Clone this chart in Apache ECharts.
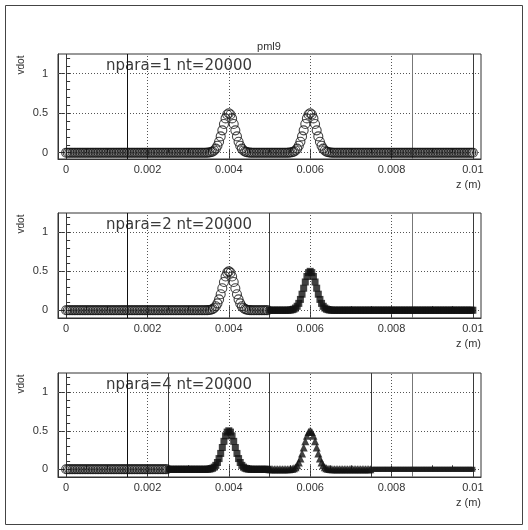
<!DOCTYPE html>
<html>
<head>
<meta charset="utf-8">
<title>pml9</title>
<script src="https://cdn.jsdelivr.net/npm/echarts@6/dist/echarts.min.js"></script>
<style>
  html, body { margin: 0; padding: 0; background: #fff; }
  #chart { width: 528px; height: 530px; }
</style>
</head>
<body>
<div id="chart"></div>
<script>
// Sample positions along z, in millimetres (one row = 1 mm)
const zMM = [
  0.00,0.04,0.08,0.12,0.16,0.20,0.24,0.28,0.32,0.36,0.40,0.44,0.48,0.52,0.56,0.60,0.64,0.68,0.72,0.76,0.80,0.84,0.88,0.92,0.96,
  1.00,1.04,1.08,1.12,1.16,1.20,1.24,1.28,1.32,1.36,1.40,1.44,1.48,1.52,1.56,1.60,1.64,1.68,1.72,1.76,1.80,1.84,1.88,1.92,1.96,
  2.00,2.04,2.08,2.12,2.16,2.20,2.24,2.28,2.32,2.36,2.40,2.44,2.48,2.52,2.56,2.60,2.64,2.68,2.72,2.76,2.80,2.84,2.88,2.92,2.96,
  3.00,3.04,3.08,3.12,3.16,3.20,3.24,3.28,3.32,3.36,3.40,3.44,3.48,3.52,3.56,3.60,3.64,3.68,3.72,3.76,3.80,3.84,3.88,3.92,3.96,
  4.00,4.04,4.08,4.12,4.16,4.20,4.24,4.28,4.32,4.36,4.40,4.44,4.48,4.52,4.56,4.60,4.64,4.68,4.72,4.76,4.80,4.84,4.88,4.92,4.96,
  5.00,5.04,5.08,5.12,5.16,5.20,5.24,5.28,5.32,5.36,5.40,5.44,5.48,5.52,5.56,5.60,5.64,5.68,5.72,5.76,5.80,5.84,5.88,5.92,5.96,
  6.00,6.04,6.08,6.12,6.16,6.20,6.24,6.28,6.32,6.36,6.40,6.44,6.48,6.52,6.56,6.60,6.64,6.68,6.72,6.76,6.80,6.84,6.88,6.92,6.96,
  7.00,7.04,7.08,7.12,7.16,7.20,7.24,7.28,7.32,7.36,7.40,7.44,7.48,7.52,7.56,7.60,7.64,7.68,7.72,7.76,7.80,7.84,7.88,7.92,7.96,
  8.00,8.04,8.08,8.12,8.16,8.20,8.24,8.28,8.32,8.36,8.40,8.44,8.48,8.52,8.56,8.60,8.64,8.68,8.72,8.76,8.80,8.84,8.88,8.92,8.96,
  9.00,9.04,9.08,9.12,9.16,9.20,9.24,9.28,9.32,9.36,9.40,9.44,9.48,9.52,9.56,9.60,9.64,9.68,9.72,9.76,9.80,9.84,9.88,9.92,9.96,
  10.00
];

// vdot at each sample (same rows as zMM)
const vdot = [
  0,0,0,0,0,0,0,0,0,0,0,0,0,0,0,0,0,0,0,0,0,0,0,0,0,
  0,0,0,0,0,0,0,0,0,0,0,0,0,0,0,0,0,0,0,0,0,0,0,0,0,
  0,0,0,0,0,0,0,0,0,0,0,0,0,0,0,0,0,0,0,0,0,0,0,0,0,
  0,0,0,0,0,0,0,0,0,0,0,0,0.001,0.003,0.007,0.014,0.028,0.051,0.088,0.139,0.206,0.283,0.363,0.434,0.483,
  0.5,0.483,0.434,0.363,0.283,0.206,0.139,0.088,0.051,0.028,0.014,0.007,0.003,0.001,0,0,0,0,0,0,0,0,0,0,0,
  0,0,0,0,0,0,0,0,0,0,0,0,0.001,0.003,0.007,0.014,0.028,0.051,0.088,0.139,0.206,0.283,0.363,0.434,0.483,
  0.5,0.483,0.434,0.363,0.283,0.206,0.139,0.088,0.051,0.028,0.014,0.007,0.003,0.001,0,0,0,0,0,0,0,0,0,0,0,
  0,0,0,0,0,0,0,0,0,0,0,0,0,0,0,0,0,0,0,0,0,0,0,0,0,
  0,0,0,0,0,0,0,0,0,0,0,0,0,0,0,0,0,0,0,0,0,0,0,0,0,
  0,0,0,0,0,0,0,0,0,0,0,0,0,0,0,0,0,0,0,0,0,0,0,0,0,
  0
];

const panelLabels = ['npara=1 nt=20000', 'npara=2 nt=20000', 'npara=4 nt=20000'];
// Partition boundaries (m) for each run
const partitionEdges = [
  [0, 0.01],
  [0, 0.005, 0.01],
  [0, 0.0025, 0.005, 0.0075, 0.01]
];
// PML interfaces (m)
const pmlEdges = [0.0015, 0.0085];

const xTickLabels = [0, 0.002, 0.004, 0.006, 0.008, 0.01];
const xMinorTicks = [0, 0.0005, 0.001, 0.0015, 0.002, 0.0025, 0.003, 0.0035, 0.004, 0.0045, 0.005,
                     0.0055, 0.006, 0.0065, 0.007, 0.0075, 0.008, 0.0085, 0.009, 0.0095, 0.01];
const xGridValues = [0.002, 0.004, 0.006, 0.008];
const yTickLabels = [0, 0.5, 1];
const yMinorTicks = [-0.1, 0, 0.1, 0.2, 0.3, 0.4, 0.5, 0.6, 0.7, 0.8, 0.9, 1, 1.1, 1.2];
const yGridValues = [0, 0.5, 1];

// ---- layout & styles ----
const panelTop = [54, 213, 373];
const panelHeight = [105, 105, 104];
const panelYMin = [-0.08, -0.1, -0.1];
const frameLeft = 58, frameWidth = 423;
const xMin = -0.0002, xMax = 0.0102, yMax = 1.25;

const ink = '#333';
const labelFont = 'Liberation Sans';

const partitionMarkers = [
  { symbol: 'circle', symbolSize: 9, itemStyle: { color: 'rgba(255,255,255,0)', borderColor: '#151515', borderWidth: 1.1 } },
  { symbol: 'rect', symbolSize: 7, itemStyle: { color: '#111' } },
  { symbol: 'triangle', symbolSize: 8, itemStyle: { color: '#111' } },
  { symbol: 'rect', symbolSize: [5, 5], itemStyle: { color: '#1a1a1a' } }
];
const pmlLineColors = ['#111', '#777'];
const partitionLineColor = '#3a3a3a';

const chart = echarts.init(document.getElementById('chart'), null, { renderer: 'canvas' });

const grids = [], xAxes = [], yAxes = [], series = [], texts = [];

panelLabels.forEach((label, p) => {
  grids.push({
    left: frameLeft, top: panelTop[p], width: frameWidth, height: panelHeight[p],
    show: true, borderColor: ink, borderWidth: 1, backgroundColor: 'transparent'
  });

  const xi = xAxes.length, yi = yAxes.length;
  // main x axis: labels and major ticks
  xAxes.push({
    type: 'value', gridIndex: p, position: 'bottom', min: xMin, max: xMax,
    axisLine: { show: true, onZero: false, lineStyle: { color: ink } },
    axisTick: { show: true, inside: true, length: 6, customValues: xTickLabels, lineStyle: { color: ink } },
    axisLabel: { show: true, customValues: xTickLabels, margin: 5, color: ink, fontFamily: labelFont, fontSize: 11 },
    splitLine: { show: false }
  });
  // minor x ticks
  xAxes.push({
    type: 'value', gridIndex: p, position: 'bottom', min: xMin, max: xMax,
    axisLine: { show: false },
    axisTick: { show: true, inside: true, length: 4, customValues: xMinorTicks, lineStyle: { color: ink } },
    axisLabel: { show: false }, splitLine: { show: false }
  });
  yAxes.push({
    type: 'value', gridIndex: p, position: 'left', min: panelYMin[p], max: yMax,
    axisLine: { show: true, onZero: false, lineStyle: { color: ink } },
    axisTick: { show: true, inside: true, length: 7, customValues: yTickLabels, lineStyle: { color: ink } },
    axisLabel: { show: true, customValues: yTickLabels, margin: 10, color: ink, fontFamily: labelFont, fontSize: 11 },
    splitLine: { show: false }
  });
  yAxes.push({
    type: 'value', gridIndex: p, position: 'left', min: panelYMin[p], max: yMax,
    axisLine: { show: false },
    axisTick: { show: true, inside: true, length: 4,
                customValues: yMinorTicks.filter(v => v >= panelYMin[p] && v <= yMax), lineStyle: { color: ink } },
    axisLabel: { show: false }, splitLine: { show: false }
  });

  // dotted grid and solid boundary lines
  const gridLines = [];
  xGridValues.forEach(v => gridLines.push({ xAxis: v, lineStyle: { type: [1, 2], color: '#555', width: 1 } }));
  yGridValues.forEach(v => gridLines.push({ yAxis: v, lineStyle: { type: [1, 2], color: '#555', width: 1 } }));
  partitionEdges[p].forEach(v => gridLines.push({ xAxis: v, lineStyle: { type: 'solid', color: partitionLineColor, width: 1 } }));
  pmlEdges.forEach((v, k) => gridLines.push({ xAxis: v, lineStyle: { type: 'solid', color: pmlLineColors[k], width: 1 } }));
  series.push({
    type: 'line', xAxisIndex: xi, yAxisIndex: yi, data: [], z: 1, silent: true,
    markLine: { silent: true, symbol: ['none', 'none'], z: 1, animation: false, precision: 8,
                label: { show: false }, data: gridLines }
  });

  // one scatter series per partition
  const edges = partitionEdges[p];
  for (let k = 0; k < edges.length - 1; k++) {
    const lo = edges[k], hi = edges[k + 1], last = k === edges.length - 2;
    const pts = [];
    zMM.forEach((zm, i) => {
      const z = zm / 1000;
      if (z >= lo - 1e-9 && (last ? z <= hi + 1e-9 : z < hi - 1e-9)) pts.push([z, vdot[i]]);
    });
    const m = partitionMarkers[k];
    series.push({
      type: 'scatter', xAxisIndex: xi, yAxisIndex: yi, z: 3 + k, silent: true,
      symbol: m.symbol, symbolSize: m.symbolSize, itemStyle: m.itemStyle, data: pts
    });
  }

  const top = panelTop[p];
  texts.push({
    type: 'text', x: 106, y: top + 12, style: {
      text: label, font: '15px "DejaVu Sans"', fill: '#3a3a3a', textAlign: 'left', textVerticalAlign: 'middle'
    }
  });
  texts.push({
    type: 'text', x: 21, y: top + 11, rotation: Math.PI / 2, style: {
      text: 'vdot', font: '10px "Liberation Sans"', fill: ink, textAlign: 'center', textVerticalAlign: 'middle'
    }
  });
  texts.push({
    type: 'text', x: frameLeft + frameWidth, y: top + panelHeight[p] + 26, style: {
      text: 'z (m)', font: '11px "Liberation Sans"', fill: ink, textAlign: 'right', textVerticalAlign: 'middle'
    }
  });
});

texts.push({
  type: 'text', x: 269, y: 47, style: {
    text: 'pml9', font: '11px "Liberation Sans"', fill: ink, textAlign: 'center', textVerticalAlign: 'middle'
  }
});
texts.push({
  type: 'rect', shape: { x: 5.5, y: 5.5, width: 517, height: 519 },
  style: { fill: 'none', stroke: '#444', lineWidth: 1 }, z: -1
});

chart.setOption({
  animation: false,
  backgroundColor: '#fff',
  grid: grids,
  xAxis: xAxes,
  yAxis: yAxes,
  series: series,
  graphic: texts
});
</script>
</body>
</html>
